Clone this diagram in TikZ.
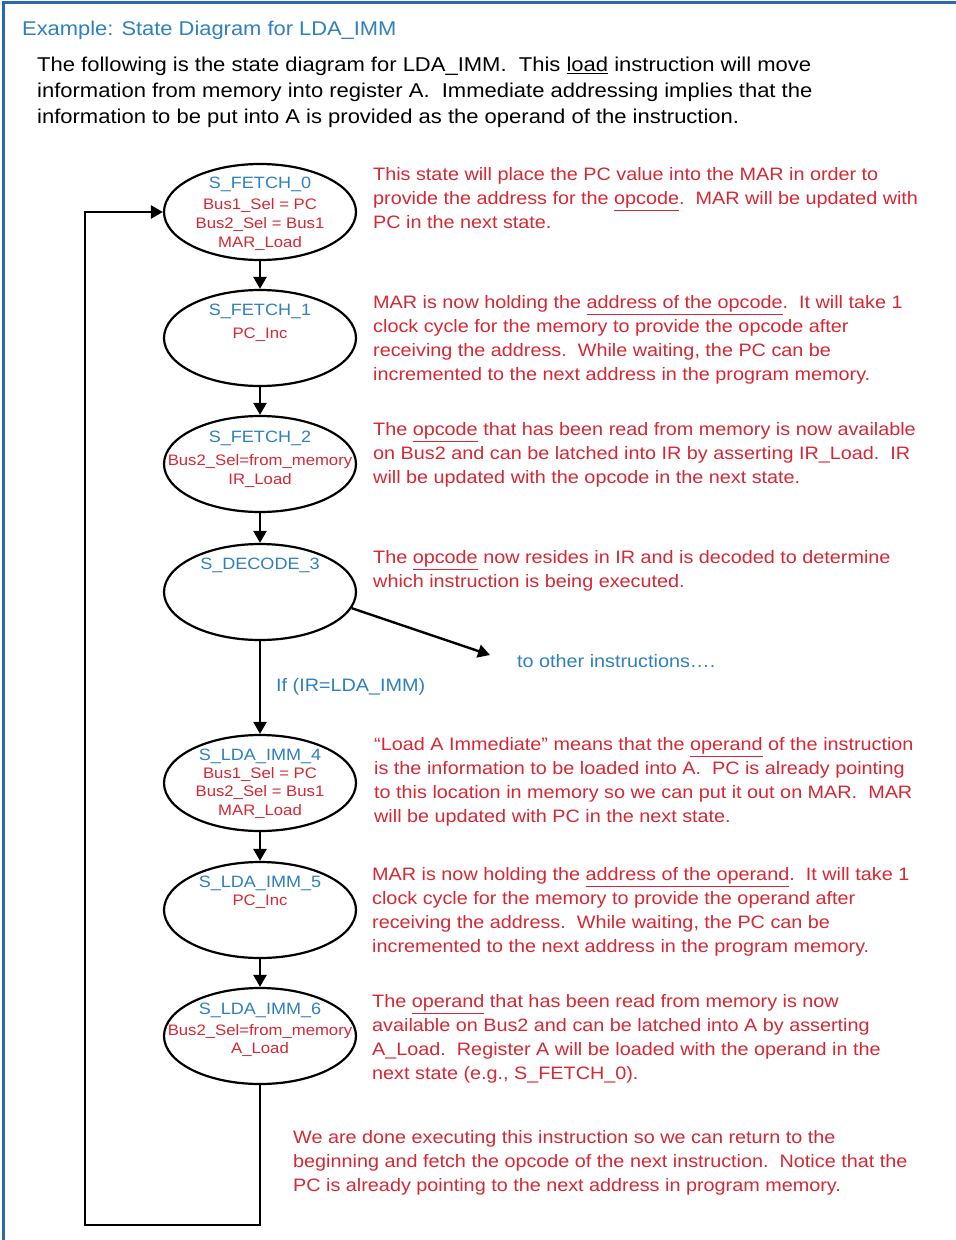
\documentclass[tikz,border=0pt]{standalone}
\usepackage{fontspec}
\setmainfont{Liberation Sans}[FakeStretch=1.1]
\usetikzlibrary{shapes.geometric,arrows.meta}
\definecolor{tblue}{RGB}{46,128,190}
\definecolor{fblue}{RGB}{40,105,180}
\definecolor{tred}{RGB}{214,40,52}
\tikzset{
  x=1pt,y=-1pt,
  state/.style={draw, line width=2.2pt, ellipse, minimum width=192pt, minimum height=96pt, inner sep=0pt},
  flow/.style={line width=2.4pt, -{Triangle[length=12pt,width=13pt]}},
  stitle/.style={anchor=base, inner sep=0pt, text=tblue, font=\fontsize{16.4}{19}\selectfont},
  sline/.style={anchor=base, inner sep=0pt, text=tred, font=\fontsize{15.2}{18}\selectfont},
  note/.style={anchor=north west, inner sep=0pt, align=left, text=tred, font=\fontsize{18}{24}\selectfont},
  body/.style={anchor=north west, inner sep=0pt, align=left, text=black, font=\fontsize{20}{26}\selectfont},
  bluelabel/.style={anchor=north west, inner sep=0pt, text=tblue, font=\fontsize{18}{24}\selectfont},
}
\begin{document}
\begin{tikzpicture}
\useasboundingbox (0,0) rectangle (956,1240);
\fill[white] (0,0) rectangle (956,1240);
% frame
\draw[fblue, line width=3pt] (3,1240) -- (3,2) -- (956,2);
% header
\node[anchor=north west, inner sep=0pt, text=tblue, font=\fontsize{19.9}{26}\selectfont] (hdr) at (22,20.5) {Example: State Diagram for LDA\_IMM};
\node[body] (intro) at (37,56.5) {The following is the state diagram for LDA\_IMM.\ \ This \underline{load} instruction will move\\
information from memory into register A.\ \ Immediate addressing implies that the\\
information to be put into A is provided as the operand of the instruction.};
% states
\node[state] (f0) at (260,212) {};
\node[state] (f1) at (260,338) {};
\node[state] (f2) at (260,464) {};
\node[state] (d3) at (260,592) {};
\node[state] (i4) at (260,783) {};
\node[state] (i5) at (260,910) {};
\node[state] (i6) at (260,1036) {};
% state texts
\node[stitle] (f0t) at (260,188) {S\_FETCH\_0};
\node[sline] (f0a) at (260,209) {Bus1\_Sel = PC};
\node[sline] (f0b) at (260,228) {Bus2\_Sel = Bus1};
\node[sline] (f0c) at (260,247) {MAR\_Load};
\node[stitle] (f1t) at (260,315) {S\_FETCH\_1};
\node[sline] (f1a) at (260,338.5) {PC\_Inc};
\node[stitle] (f2t) at (260,442) {S\_FETCH\_2};
\node[sline] (f2a) at (260,465.5) {Bus2\_Sel=from\_memory};
\node[sline] (f2b) at (260,484.5) {IR\_Load};
\node[stitle] (d3t) at (260,569) {S\_DECODE\_3};
\node[stitle] (i4t) at (260,760) {S\_LDA\_IMM\_4};
\node[sline] (i4a) at (260,778.5) {Bus1\_Sel = PC};
\node[sline] (i4b) at (260,796.5) {Bus2\_Sel = Bus1};
\node[sline] (i4c) at (260,815.5) {MAR\_Load};
\node[stitle] (i5t) at (260,887) {S\_LDA\_IMM\_5};
\node[sline] (i5a) at (260,905.5) {PC\_Inc};
\node[stitle] (i6t) at (260,1014) {S\_LDA\_IMM\_6};
\node[sline] (i6a) at (260,1035.5) {Bus2\_Sel=from\_memory};
\node[sline] (i6b) at (260,1053.5) {A\_Load};
% connectors
\draw[flow] (f0) -- (f1);
\draw[flow] (f1) -- (f2);
\draw[flow] (f2) -- (d3);
\draw[flow] (d3) -- (i4);
\draw[flow] (i4) -- (i5);
\draw[flow] (i5) -- (i6);
\coordinate (lb) at (85,1225);
\draw[flow] (i6.south) |- (lb) |- (f0.west);
\coordinate (oth) at (490,655);
\draw[flow] (d3.-10) -- (oth);
\node[bluelabel] (cond) at (276,678.5) {If (IR=LDA\_IMM)};
\node[bluelabel] (other) at (517,654.5) {to other instructions….};
% notes
\node[note] (n0) at (373,167.5) {This state will place the PC value into the MAR in order to\\
provide the address for the \underline{opcode}.\ \ MAR will be updated with\\
PC in the next state.};
\node[note] (n1) at (373,295.5) {MAR is now holding the \underline{address of the opcode}.\ \ It will take 1\\
clock cycle for the memory to provide the opcode after\\
receiving the address.\ \ While waiting, the PC can be\\
incremented to the next address in the program memory.};
\node[note] (n2) at (373,422.5) {The \underline{opcode} that has been read from memory is now available\\
on Bus2 and can be latched into IR by asserting IR\_Load.\ \ IR\\
will be updated with the opcode in the next state.};
\node[note] (n3) at (373,550.5) {The \underline{opcode} now resides in IR and is decoded to determine\\
which instruction is being executed.};
\node[note] (n4) at (374,737.5) {“Load A Immediate” means that the \underline{operand} of the instruction\\
is the information to be loaded into A.\ \ PC is already pointing\\
to this location in memory so we can put it out on MAR.\ \ MAR\\
will be updated with PC in the next state.};
\node[note] (n5) at (372,867.5) {MAR is now holding the \underline{address of the operand}.\ \ It will take 1\\
clock cycle for the memory to provide the operand after\\
receiving the address.\ \ While waiting, the PC can be\\
incremented to the next address in the program memory.};
\node[note] (n6) at (372,994.5) {The \underline{operand} that has been read from memory is now\\
available on Bus2 and can be latched into A by asserting\\
A\_Load.\ \ Register A will be loaded with the operand in the\\
next state (e.g., S\_FETCH\_0).};
\node[note] (n7) at (293,1130.5) {We are done executing this instruction so we can return to the\\
beginning and fetch the opcode of the next instruction.\ \ Notice that the\\
PC is already pointing to the next address in program memory.};
\end{tikzpicture}
\end{document}
